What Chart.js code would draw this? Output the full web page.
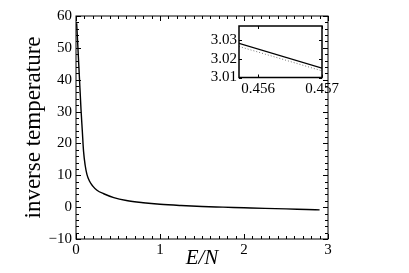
<!DOCTYPE html>
<html>
<head>
<meta charset="utf-8">
<script src="https://cdn.jsdelivr.net/npm/chart.js@4/dist/chart.umd.min.js"></script>
<style>
  html, body { margin: 0; padding: 0; background: #fff; }
  #wrap { position: relative; width: 409px; height: 273px; }
  #main { position: absolute; left: 0; top: 0; }
  #inset { position: absolute; left: 195px; top: 15px; }
</style>
</head>
<body>
<div id="wrap">
  <canvas id="main" width="409" height="273"></canvas>
  <canvas id="inset" width="150" height="85"></canvas>
</div>
<script>
// main curve: inverse temperature against E/N
const energia = [0.008, 0.02, 0.04, 0.06, 0.075, 0.09, 0.11, 0.13, 0.16, 0.2, 0.25, 0.33, 0.45, 0.6, 0.8, 1.0, 1.25, 1.5, 1.75, 2.0, 2.25, 2.5, 2.75, 2.9];
const beta = [57.7, 51.5, 41, 30.5, 24, 17.5, 13, 10.3, 8.2, 6.6, 5.3, 4.2, 3.0, 2.1, 1.4, 0.9, 0.5, 0.2, 0.0, -0.2, -0.4, -0.55, -0.75, -0.85];
const xTicks = [0, 1, 2, 3];
const yTicks = [-10, 0, 10, 20, 30, 40, 50, 60];

// inset (zoom near E/N = 0.456)
const insetX = [0.4557, 0.457];
const insetSolido = [3.028, 3.0149];
const insetPontilhado = [3.0264, 3.0135];
const insetXTicks = [0.456, 0.457];
const insetYTicks = [3.01, 3.02, 3.03];

const serif = "'Liberation Serif', serif";
Chart.defaults.font.family = serif;
Chart.defaults.color = '#000';
const pares = (xs, ys) => xs.map((x, i) => ({ x: x, y: ys[i] }));
const menos = v => String(v).replace('-', '\u2212');

// frame plus inward ticks (major and minor) on all four sides
function frameTicks(opts) {
  return {
    id: 'frameTicks',
    afterDraw(chart) {
      const { ctx, chartArea: a, scales } = chart;
      const sx = scales.x, sy = scales.y;
      ctx.save();
      ctx.strokeStyle = '#000';
      ctx.lineWidth = opts.frame;
      ctx.strokeRect(a.left, a.top, a.right - a.left, a.bottom - a.top);
      ctx.lineWidth = 1;
      ctx.beginPath();
      const marcaX = (v, len) => {
        const p = Math.round(sx.getPixelForValue(v)) + 0.5;
        ctx.moveTo(p, a.bottom); ctx.lineTo(p, a.bottom - len);
        ctx.moveTo(p, a.top); ctx.lineTo(p, a.top + len);
      };
      const marcaY = (v, len) => {
        const p = Math.round(sy.getPixelForValue(v)) + 0.5;
        ctx.moveTo(a.left, p); ctx.lineTo(a.left + len, p);
        ctx.moveTo(a.right, p); ctx.lineTo(a.right - len, p);
      };
      if (opts.xMinor) {
        for (let v = sx.min; v <= sx.max + 1e-9; v += opts.xMinor) marcaX(v, opts.minor);
      }
      if (opts.yMinor) {
        for (let v = sy.min; v <= sy.max + 1e-9; v += opts.yMinor) marcaY(v, opts.minor);
      }
      opts.xMajor.forEach(v => marcaX(v, opts.major));
      opts.yMajor.forEach(v => marcaY(v, opts.major));
      ctx.stroke();
      ctx.restore();
    }
  };
}

new Chart(document.getElementById('main'), {
  type: 'scatter',
  data: {
    datasets: [{
      data: pares(energia, beta),
      showLine: true,
      borderColor: '#000',
      borderWidth: 1.4,
      pointRadius: 0,
      cubicInterpolationMode: 'monotone'
    }]
  },
  options: {
    responsive: false,
    animation: false,
    devicePixelRatio: 1,
    layout: { padding: { top: 16, right: 81, left: 0, bottom: 0 } },
    plugins: { legend: { display: false }, tooltip: { enabled: false } },
    scales: {
      x: {
        type: 'linear', min: 0, max: 3,
        afterBuildTicks: s => { s.ticks = xTicks.map(v => ({ value: v })); },
        afterFit: s => { s.height = 34; },
        grid: { display: false, drawTicks: false },
        border: { display: false },
        ticks: { color: '#000', padding: 2, maxRotation: 0, font: { family: serif, size: 15 } },
        title: { display: true, text: 'E/N', color: '#000', padding: { top: 0, bottom: 2 }, font: { family: serif, size: 21, style: 'italic' } }
      },
      y: {
        type: 'linear', min: -10, max: 60,
        afterBuildTicks: s => { s.ticks = yTicks.map(v => ({ value: v })); },
        afterFit: s => { s.width = 76; },
        grid: { display: false, drawTicks: false },
        border: { display: false },
        ticks: { color: '#000', padding: 4, font: { family: serif, size: 15 }, callback: menos },
        title: { display: true, text: 'inverse temperature', color: '#000', padding: { top: 20, bottom: 0 }, font: { family: serif, size: 23 } }
      }
    }
  },
  plugins: [frameTicks({ frame: 1, major: 5, minor: 3, xMajor: xTicks, yMajor: yTicks, xMinor: 0.1, yMinor: 2 })]
});

new Chart(document.getElementById('inset'), {
  type: 'scatter',
  data: {
    datasets: [{
      data: pares(insetX, insetSolido),
      showLine: true,
      borderColor: '#000',
      borderWidth: 1.3,
      pointRadius: 0
    }, {
      data: pares(insetX, insetPontilhado),
      showLine: true,
      borderColor: '#777',
      borderWidth: 1,
      borderDash: [1, 2],
      pointRadius: 0
    }]
  },
  options: {
    responsive: false,
    animation: false,
    devicePixelRatio: 1,
    layout: { padding: { top: 7, right: 23, left: 0, bottom: 0 } },
    plugins: { legend: { display: false }, tooltip: { enabled: false } },
    scales: {
      x: {
        type: 'linear', min: insetX[0], max: insetX[1],
        afterBuildTicks: s => { s.ticks = insetXTicks.map(v => ({ value: v })); },
        afterFit: s => { s.height = 22.5; },
        grid: { display: false, drawTicks: false },
        border: { display: false },
        ticks: { color: '#000', padding: 3, maxRotation: 0, font: { family: serif, size: 15 }, callback: v => v.toFixed(3) }
      },
      y: {
        type: 'linear', min: 3.01, max: 3.0372,
        afterBuildTicks: s => { s.ticks = insetYTicks.map(v => ({ value: v })); },
        afterFit: s => { s.width = 44; },
        grid: { display: false, drawTicks: false },
        border: { display: false },
        ticks: { color: '#000', padding: 2, font: { family: serif, size: 15 }, callback: v => v.toFixed(2) }
      }
    }
  },
  plugins: [frameTicks({ frame: 1.5, major: 3, minor: 2, xMajor: insetXTicks, yMajor: insetYTicks, xMinor: 0, yMinor: 0 })]
});
</script>
</body>
</html>
